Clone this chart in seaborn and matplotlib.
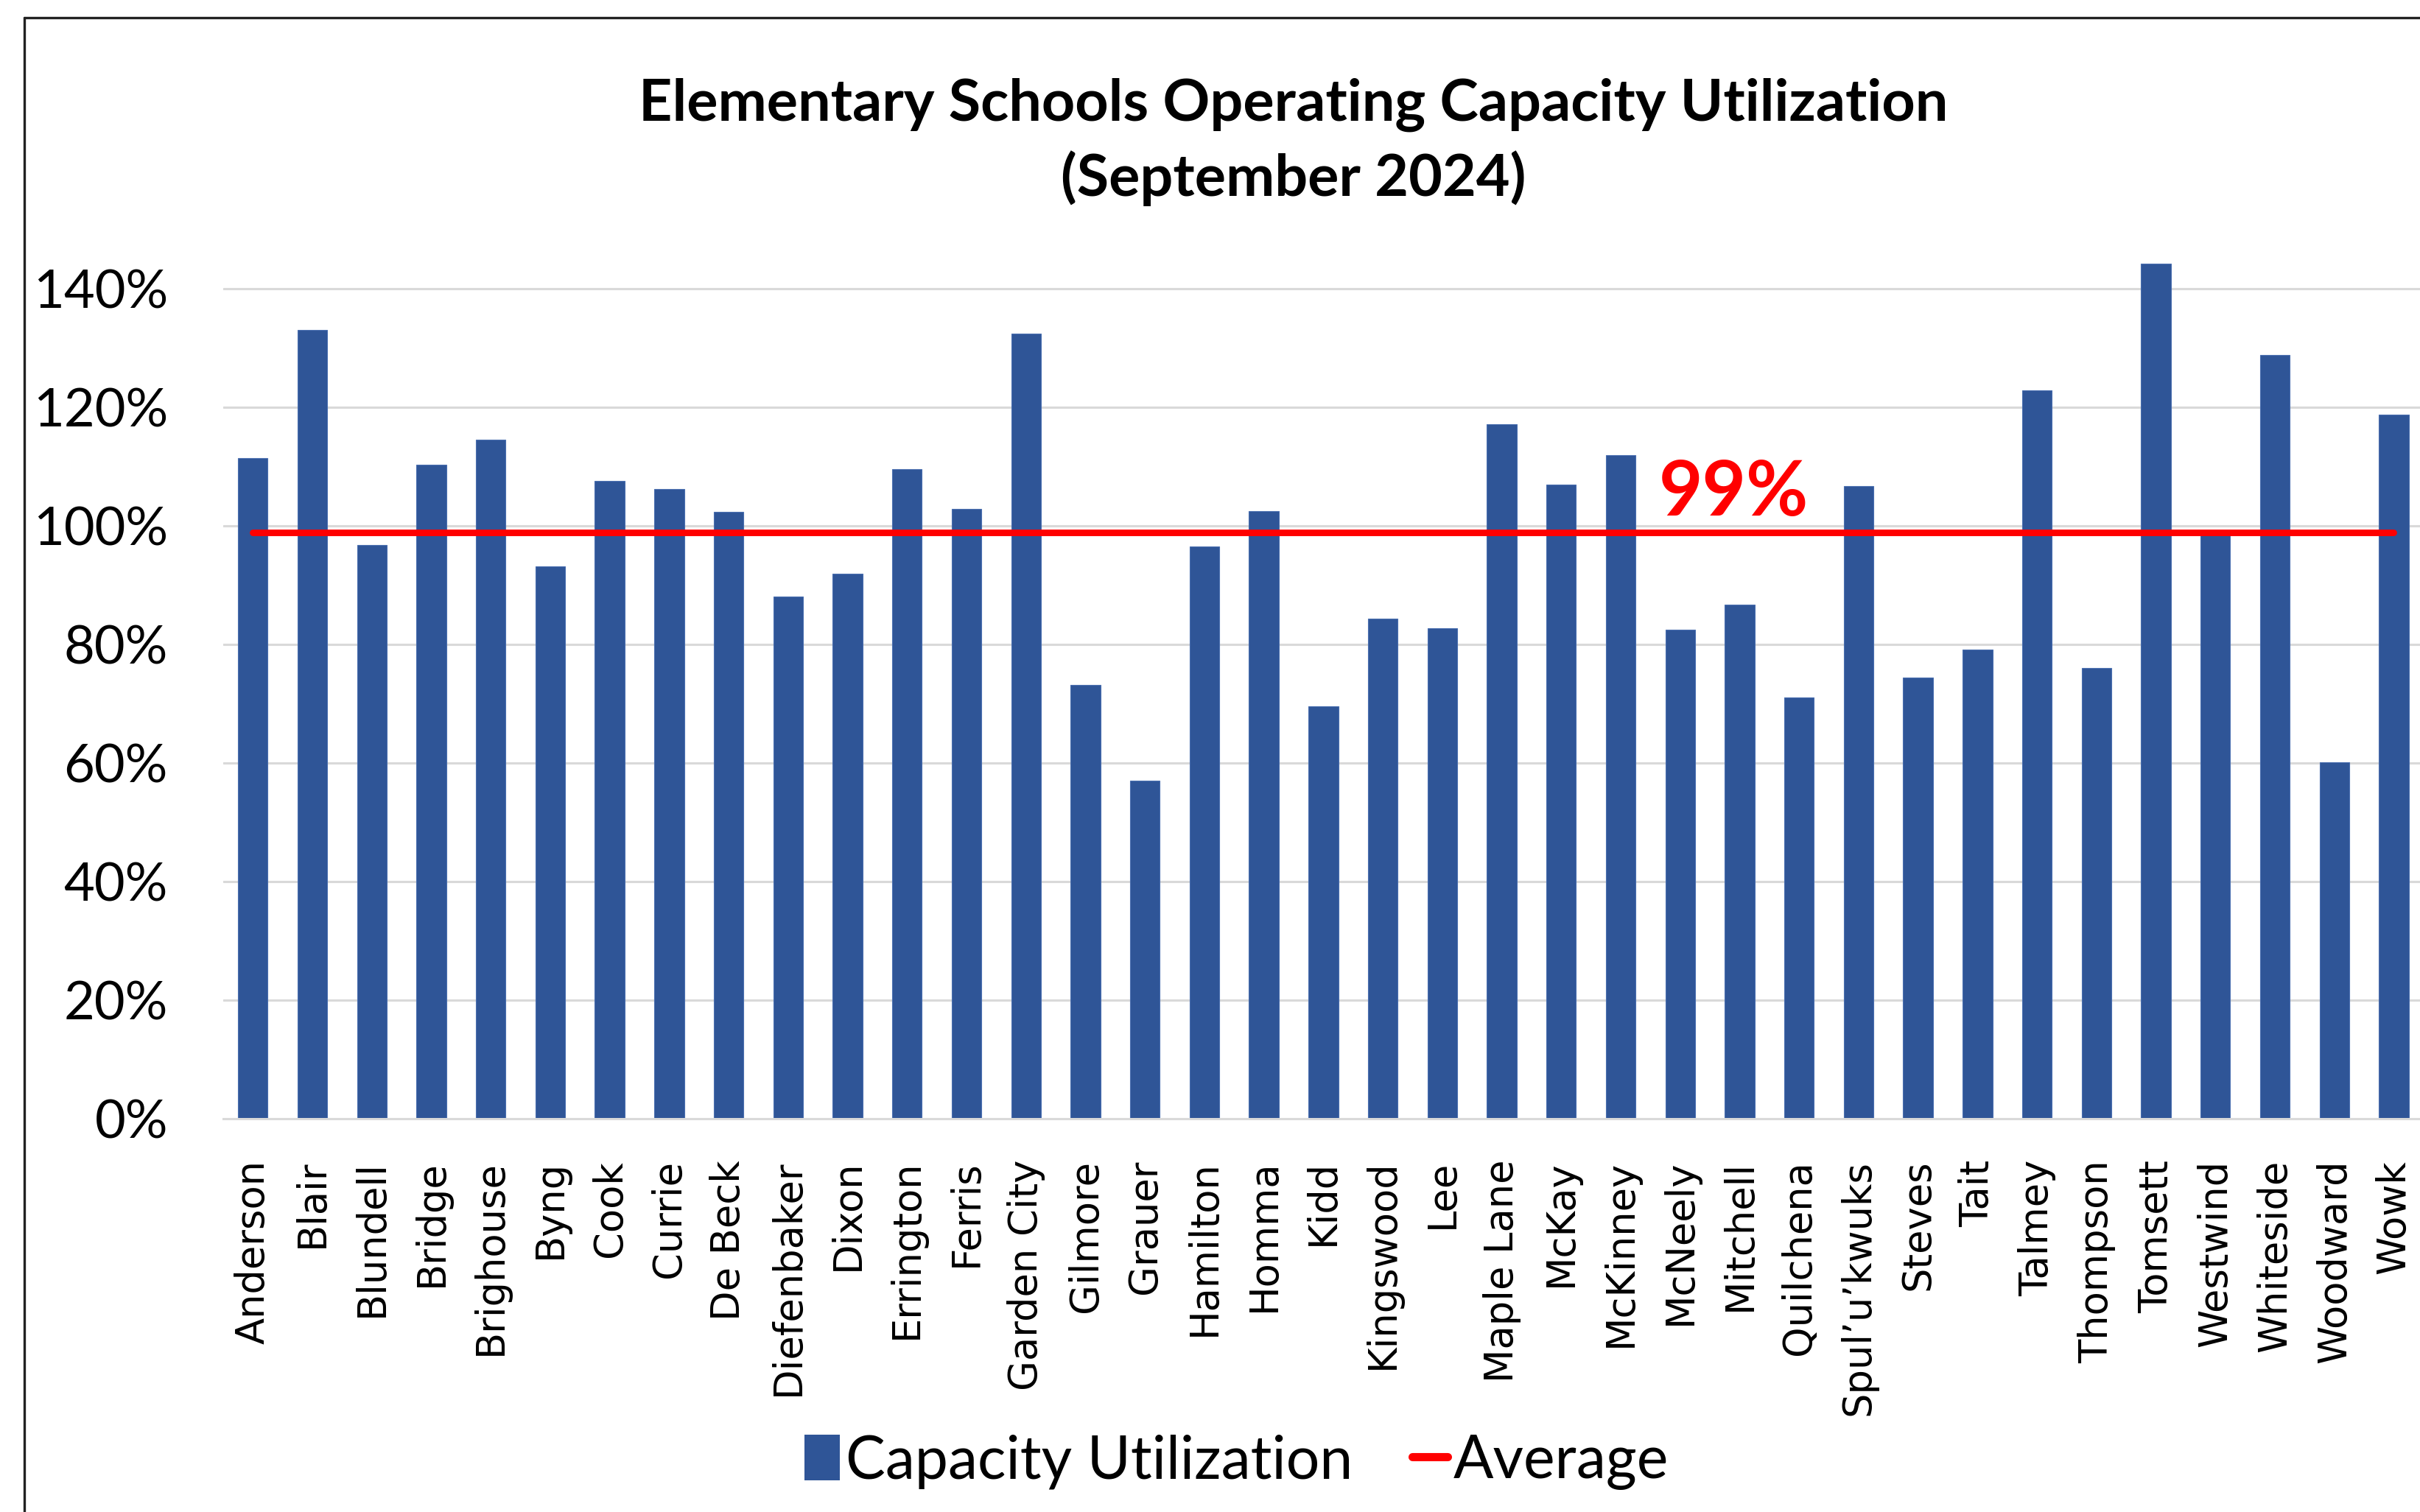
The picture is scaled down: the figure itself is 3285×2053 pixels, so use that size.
import matplotlib
matplotlib.use('Agg')
import matplotlib.pyplot as plt
import seaborn as sns
from matplotlib.ticker import PercentFormatter
from matplotlib.patches import Patch
from matplotlib.lines import Line2D

# Data
schools = ['Anderson', 'Blair', 'Blundell', 'Bridge', 'Brighouse', 'Byng', 'Cook', 'Currie',
           'De Beck', 'Diefenbaker', 'Dixon', 'Errington', 'Ferris', 'Garden City', 'Gilmore',
           'Grauer', 'Hamilton', 'Homma', 'Kidd', 'Kingswood', 'Lee', 'Maple Lane', 'McKay',
           'McKinney', 'McNeely', 'Mitchell', 'Quilchena', 'Spul\u2019u\u2019kwuks', 'Steves', 'Tait',
           'Talmey', 'Thompson', 'Tomsett', 'Westwind', 'Whiteside', 'Woodward', 'Wowk']
utilization = [1.114, 1.330, 0.968, 1.103, 1.145, 0.932, 1.075, 1.062,
               1.023, 0.880, 0.919, 1.095, 1.028, 1.324, 0.731,
               0.570, 0.965, 1.025, 0.695, 0.843, 0.827, 1.171, 1.069,
               1.119, 0.825, 0.867, 0.710, 1.067, 0.744, 0.791,
               1.228, 0.760, 1.442, 0.989, 1.288, 0.601, 1.187]
average = 0.989
average_label = '99%'

bar_color = '#2F5597'
line_color = '#FF0000'

sns.set_theme(style='white')
plt.rcParams['font.family'] = ['Lato', 'DejaVu Sans']

fig = plt.figure(figsize=(16.425, 10.265), dpi=200)
ax = fig.add_axes([0.0922, 0.260, 0.9078, 0.5885])

sns.barplot(x=schools, y=utilization, color=bar_color, width=0.5, saturation=1,
            edgecolor='#4A6FB0', linewidth=0.4, ax=ax)
sns.lineplot(x=schools, y=[average] * len(schools), color=line_color, linewidth=3.2,
             sort=False, ax=ax, solid_capstyle='round')

ax.set_ylim(0, 1.5)
ax.set_xlim(-0.5, len(schools) - 1 + 0.44)
ax.set_yticks([0, 0.2, 0.4, 0.6, 0.8, 1.0, 1.2, 1.4])
ax.yaxis.set_major_formatter(PercentFormatter(1.0, decimals=0))
ax.grid(axis='y', color='#D9D9D9', linewidth=1.1)
ax.set_axisbelow(True)
for s in ['top', 'right', 'left']:
    ax.spines[s].set_visible(False)
ax.spines['bottom'].set_color('#D9D9D9')
ax.spines['bottom'].set_linewidth(1.1)
ax.tick_params(axis='y', length=0, pad=27, labelsize=26, labelcolor='black')
ax.tick_params(axis='x', length=0, pad=20)
ax.set_xticks(range(len(schools)))
ax.set_xticklabels(schools, rotation=90, fontsize=19, family='DejaVu Sans', va='top', ha='center',
                   color='black')
ax.set_xlabel('')
ax.set_ylabel('')

ax.text(24.9, 1.017, average_label, color=line_color, fontsize=37, fontweight='bold',
        ha='center', va='baseline')

fig.text(0.5345, 0.906, 'Elementary Schools Operating Capacity Utilization\n(September 2024)',
         ha='center', va='center', fontsize=28.5, fontweight='bold', linespacing=1.4, color='black')

handles = [Patch(facecolor=bar_color, edgecolor='none'),
           Line2D([0], [0], color=line_color, linewidth=4, solid_capstyle='round')]
fig.legend(handles, ['Capacity Utilization', 'Average'], loc='center', bbox_to_anchor=(0.511, 0.033),
           ncol=2, frameon=False, fontsize=29, handlelength=0.6, handleheight=0.8,
           handletextpad=0.1, columnspacing=1.0, labelcolor='black')

# chart border (left and top visible in the crop)
fig.add_artist(plt.Line2D([33 / 3285, 33 / 3285], [0, 1 - 24 / 2053], color='#222222',
                          linewidth=1.2, transform=fig.transFigure))
fig.add_artist(plt.Line2D([33 / 3285, 1], [1 - 24 / 2053, 1 - 24 / 2053], color='#222222',
                          linewidth=1.2, transform=fig.transFigure))

fig.savefig('out.png', dpi=200)
